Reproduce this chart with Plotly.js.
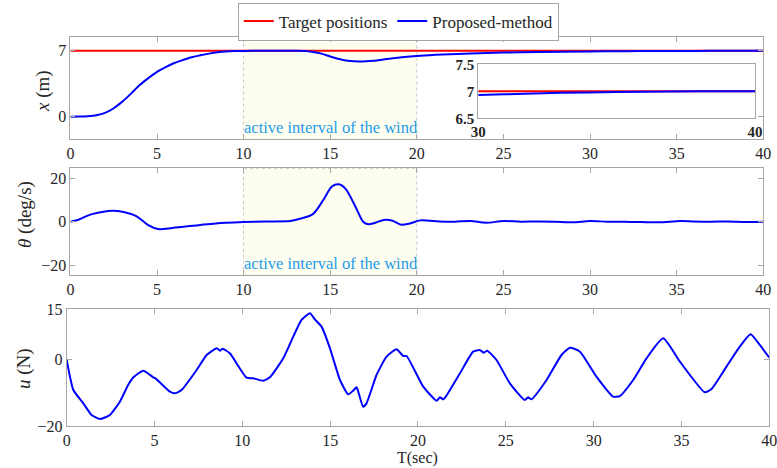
<!DOCTYPE html>
<html>
<head>
<meta charset="utf-8">
<script src="https://cdn.plot.ly/plotly-3.0.1.min.js"></script>
<style>html,body{margin:0;padding:0;background:#fff;}#chart{width:777px;height:468px;}</style>
</head>
<body>
<div id="chart"></div>
<script>
// ---- data ----
const targetT = [0, 40];
const targetX = [7, 7];

const posT = [0, 0.5, 1, 1.5, 2, 2.5, 3, 3.5, 4, 4.5, 5, 5.5, 6, 6.5, 7, 7.5, 8, 8.5, 9, 9.5, 10, 11, 12, 13, 13.5, 14, 14.5, 15, 15.5, 16, 16.7, 17.5, 18.25, 19, 20.2, 21.5, 23.1, 25, 27, 30, 32, 34, 36, 38, 40];
const posX = [0, 0.01, 0.05, 0.15, 0.4, 0.9, 1.6, 2.45, 3.36, 4.1, 4.77, 5.27, 5.7, 6.02, 6.32, 6.52, 6.7, 6.84, 6.93, 6.97, 6.99, 7.0, 7.0, 7.0, 6.98, 6.88, 6.7, 6.4, 6.12, 5.95, 5.87, 5.95, 6.12, 6.28, 6.47, 6.6, 6.72, 6.82, 6.88, 6.93, 6.96, 6.98, 6.99, 7.0, 7.0];

const thT = [0, 0.5, 1, 1.3, 1.9, 2.45, 3, 3.8, 4.5, 5.05, 5.9, 7.5, 8.4, 10, 11.3, 12.7, 13.2, 14, 14.6, 15.1, 15.5, 15.9, 16.5, 16.9, 17.2, 17.6, 18.1, 18.6, 19.1, 19.6, 20.2, 21.3, 22.2, 23.1, 24, 25, 26, 27, 28, 29, 30, 31, 32, 33, 34, 35.2, 36, 37, 38, 39, 40];
const thV = [0, 1.0, 2.8, 3.6, 4.6, 5.0, 4.6, 2.6, -1.6, -3.4, -2.9, -1.5, -0.8, -0.2, 0.1, 0.3, 1.2, 3.5, 10, 16.2, 17.2, 15, 6.2, 0, -1.2, -0.5, 0.8, 0.4, -1.4, -0.8, 0.6, 0.1, 0, 0.3, -0.5, 0.3, 0, 0.1, 0, -0.3, 0.3, 0, 0, -0.2, -0.3, 0.3, 0.1, 0, 0.1, -0.1, 0];

const uT = [0, 0.38, 0.95, 1.42, 1.9, 2.46, 3.03, 3.5, 3.8, 4.36, 4.93, 5.12, 5.88, 6.16, 6.54, 7.4, 7.97, 8.54, 8.73, 8.88, 9.29, 10.24, 10.62, 11.19, 11.57, 12.33, 12.9, 13.37, 13.85, 14.13, 14.51, 14.99, 15.56, 16.03, 16.31, 16.5, 16.6, 16.88, 17.07, 17.64, 18.21, 18.78, 19.16, 19.35, 20.3, 21.06, 21.25, 21.44, 21.63, 22.39, 23.14, 23.52, 23.75, 23.94, 24.47, 25.23, 26.08, 26.27, 26.46, 27.32, 28.17, 28.65, 29.22, 30.16, 31.11, 31.49, 32.25, 33.01, 33.96, 34.91, 36.33, 36.71, 37.56, 38.32, 38.93, 39.46, 40];
const uV = [0, -9.2, -13.2, -16.7, -17.9, -16.7, -12.7, -7.7, -5.4, -3.4, -5.4, -6.0, -9.7, -10.2, -9.2, -3.2, 1.3, 3.3, 2.6, 3.2, 1.8, -5.5, -5.7, -6.4, -5.4, 0.3, 6.8, 11.8, 13.8, 12.0, 9.8, 3.3, -6.2, -10.5, -9.4, -8.4, -9.7, -14.2, -13.2, -4.7, 0.8, 3.0, 1.0, 1.0, -8.2, -12.4, -11.4, -12.0, -10.8, -4.2, 2.3, 2.8, 2.0, 2.6, -0.2, -7.2, -12.2, -11.4, -12.0, -6.2, 1.3, 3.5, 2.3, -5.2, -11.2, -11.0, -6.2, 0.3, 6.3, -0.7, -9.9, -8.9, -2.2, 3.8, 7.5, 4.3, 0.5];

const xTicks = [0, 5, 10, 15, 20, 25, 30, 35, 40];
const posTicks = [0, 7];
const thTicks = [-20, 0, 20];
const uTicks = [-20, 0, 15];
const insetXTicks = [30, 40];
const insetYTicks = [6.5, 7, 7.5];
const windStart = 10, windEnd = 20;
const windLabel = 'active interval of the wind';
const yTitles = ['<i>x</i> (m)', '<i>θ</i> (deg/s)', '<i>u</i> (N)'];
const xTitle = 'T(sec)';

// ---- styling ----
const FONT = '"Liberation Serif", serif';
const GRAY = '#a6a6a6';
const TXT = '#262626';
const RED = '#ff0000', BLUE = '#0000ff';

function xa(domain, anchor) {
  return {
    domain: domain, anchor: anchor, range: [0, 40], tickvals: xTicks,
    ticks: 'inside', ticklen: 5, tickcolor: GRAY, showline: true, linecolor: GRAY,
    linewidth: 1, mirror: 'ticks', showgrid: false, zeroline: false,
    ticklabeloverflow: 'allow',
    tickfont: {family: FONT, size: 16, color: TXT}
  };
}
function ya(domain, anchor, range, ticks) {
  return {
    domain: domain, anchor: anchor, range: range, tickvals: ticks,
    ticks: 'inside', ticklen: 5, tickcolor: GRAY, showline: true, linecolor: GRAY,
    linewidth: 1, mirror: 'ticks', showgrid: false, zeroline: false,
    ticklabeloverflow: 'allow',
    tickfont: {family: FONT, size: 16, color: TXT}
  };
}

const traces = [
  {x: targetT, y: targetX, xaxis: 'x', yaxis: 'y', mode: 'lines', name: 'Target positions',
   line: {color: RED, width: 2}},
  {x: posT, y: posX, xaxis: 'x', yaxis: 'y', mode: 'lines', name: 'Proposed-method',
   line: {color: BLUE, width: 2, shape: 'spline', smoothing: 0.8}},
  {x: thT, y: thV, xaxis: 'x2', yaxis: 'y2', mode: 'lines', showlegend: false,
   line: {color: BLUE, width: 2, shape: 'spline', smoothing: 0.8}},
  {x: uT, y: uV, xaxis: 'x3', yaxis: 'y3', mode: 'lines', showlegend: false,
   line: {color: BLUE, width: 2, shape: 'spline', smoothing: 0.5}},
  {x: targetT, y: targetX, xaxis: 'x4', yaxis: 'y4', mode: 'lines', showlegend: false,
   line: {color: RED, width: 2}},
  {x: posT, y: posX, xaxis: 'x4', yaxis: 'y4', mode: 'lines', showlegend: false,
   line: {color: BLUE, width: 2, shape: 'spline', smoothing: 0.8}}
];

const shade = (xr, yr) => ({
  type: 'rect', xref: xr, yref: yr + ' domain', x0: windStart, x1: windEnd, y0: 0, y1: 1,
  fillcolor: '#fefef0', line: {color: '#c4c4c4', width: 1, dash: 'dot'}, layer: 'below'
});
const windNote = (xr, yr) => ({
  xref: xr, yref: yr + ' domain', x: windStart, y: 0, xanchor: 'left', yanchor: 'bottom',
  text: windLabel, showarrow: false, xshift: -2, yshift: 0,
  font: {family: FONT, size: 16.5, color: '#1e9ce8'}
});
const yTitle = (text, xpx, ypx) => ({
  xref: 'paper', yref: 'paper', x: xpx / 777, y: 1 - ypx / 468,
  xanchor: 'center', yanchor: 'middle', textangle: -90, showarrow: false,
  text: text, font: {family: FONT, size: 19, color: TXT}
});

const layout = {
  width: 777, height: 468,
  margin: {l: 0, r: 0, t: 0, b: 0},
  paper_bgcolor: '#ffffff', plot_bgcolor: 'rgba(0,0,0,0)',
  font: {family: FONT, color: TXT},
  showlegend: true,
  legend: {orientation: 'h', x: 0.306, y: 1 - 21.5 / 468, xanchor: 'left', yanchor: 'middle',
    bordercolor: GRAY, borderwidth: 1, bgcolor: '#ffffff',
    font: {family: FONT, size: 17, color: TXT}, itemwidth: 30, tracegroupgap: 0},
  xaxis: xa([0.0906, 0.9823], 'y'),
  yaxis: ya([0.7024, 0.9216], 'x', [-2.4, 8.5], posTicks),
  xaxis2: xa([0.0906, 0.9823], 'y2'),
  yaxis2: ya([0.4118, 0.6404], 'x2', [-24.7, 24.6], thTicks),
  xaxis3: xa([0.0858, 0.9901], 'y3'),
  yaxis3: ya([0.0897, 0.3391], 'x3', [-20, 15], uTicks),
  xaxis4: {domain: [0.6156, 0.9717], anchor: 'y4', range: [30, 40], tickvals: insetXTicks,
    ticktext: insetXTicks.map(v => '<b>' + v + '</b>'),
    ticks: '', showline: true, linecolor: GRAY, mirror: true, showgrid: false, zeroline: false,
    tickfont: {family: FONT, size: 15, color: TXT}},
  yaxis4: {domain: [0.7472, 0.8626], anchor: 'x4', range: [6.5, 7.5], tickvals: insetYTicks,
    ticktext: insetYTicks.map(v => '<b>' + v + '</b>'),
    ticks: '', showline: true, linecolor: GRAY, mirror: true, showgrid: false, zeroline: false,
    tickfont: {family: FONT, size: 15, color: TXT}},
  shapes: [
    shade('x', 'y'), shade('x2', 'y2'),
    {type: 'rect', xref: 'x4 domain', yref: 'y4 domain', x0: 0, x1: 1, y0: 0, y1: 1,
     fillcolor: '#ffffff', line: {width: 0}, layer: 'below'}
  ],
  annotations: [
    windNote('x', 'y'), windNote('x2', 'y2'),
    yTitle(yTitles[0], 43, 91), yTitle(yTitles[1], 25, 215), yTitle(yTitles[2], 24, 369),
    {xref: 'x3 domain', yref: 'paper', x: 0.5, y: 0, xanchor: 'center', yanchor: 'bottom',
     showarrow: false, text: xTitle, borderpad: 0, font: {family: FONT, size: 16, color: TXT}}
  ]
};

Plotly.newPlot('chart', traces, layout, {displayModeBar: false, staticPlot: true});
</script>
</body>
</html>
